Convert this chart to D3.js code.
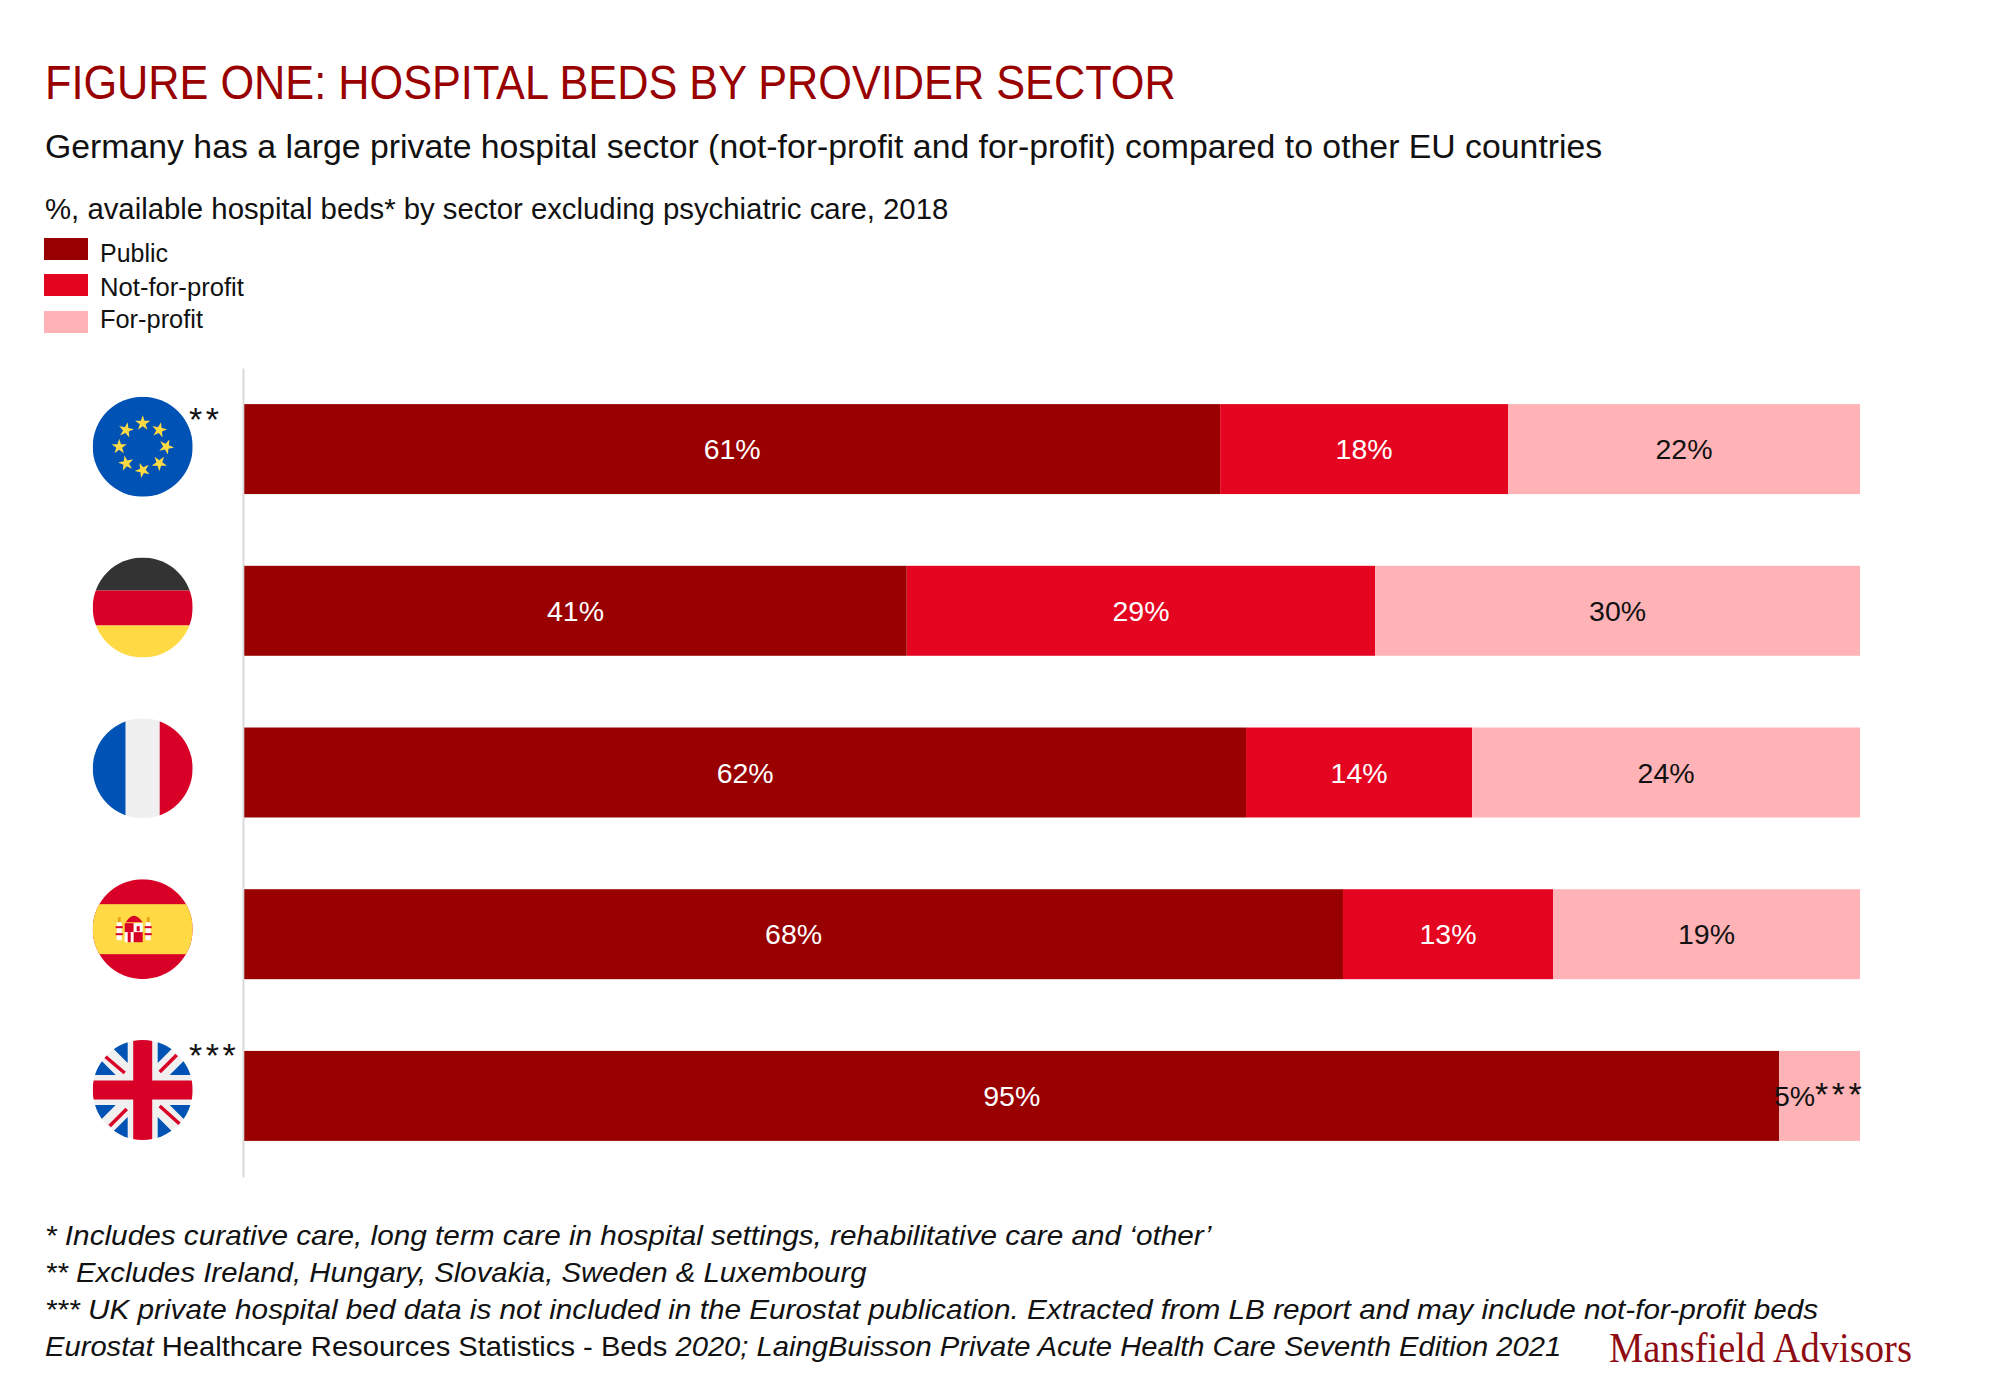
<!DOCTYPE html>
<html>
<head>
<meta charset="utf-8">
<script src="https://cdn.jsdelivr.net/npm/d3@7"></script>
<style>
  body { margin: 0; background: #fff; }
  text { font-family: "Liberation Sans", Arial, sans-serif; fill: #111; }
</style>
</head>
<body>
<script>
// data
var countries = ['EU', 'Germany', 'France', 'Spain', 'UK'];
var sectors = ['Public', 'Not-for-profit', 'For-profit'];
var publicShare = [61, 41, 62, 68, 95];
var notForProfitShare = [18, 29, 14, 13, 0];
var forProfitShare = [22, 30, 24, 19, 5];
var flagMarks = ['**', '', '', '', '***'];
var forProfitMarks = ['', '', '', '', '***'];
var sectorColors = ['#990000', '#e40521', '#ffb3b6'];

var width = 2000;
var height = 1385;

var svg = d3.select('body').append('svg')
    .attr('width', width)
    .attr('height', height)
    .style('display', 'block');

// squeeze a text to the width it has in the reference
function fit(sel, x, y, targetWidth) {
    var k = targetWidth / sel.node().getComputedTextLength();
    sel.attr('transform', 'translate(' + x + ',' + y + ') scale(' + k + ',1)');
    return sel;
}

function addLine(x, y, w, size, parts, color, family) {
    var t = svg.append('text').attr('font-size', size);
    if (color) t.style('fill', color);
    if (family) t.style('font-family', family);
    parts.forEach(function (p) {
        t.append('tspan').attr('font-style', p[1] ? 'italic' : 'normal').text(p[0]);
    });
    return fit(t, x, y, w);
}

//headers
addLine(45, 99, 1131, 48, [['FIGURE ONE: HOSPITAL BEDS BY PROVIDER SECTOR']], '#990000');
addLine(45, 158, 1558, 34, [['Germany has a large private hospital sector (not-for-profit and for-profit) compared to other EU countries']]);
addLine(45, 219, 904, 30, [['%, available hospital beds* by sector excluding psychiatric care, 2018']]);

//legend
var legendTop = [238, 274, 311];
var legendBase = [262, 296, 328];
var legendWidth = [68, 144, 103];
sectors.forEach(function (s, i) {
    svg.append('rect')
        .attr('x', 44).attr('y', legendTop[i])
        .attr('width', 44).attr('height', 22)
        .attr('fill', sectorColors[i]);
    addLine(100, legendBase[i], legendWidth[i], 26, [[s]]);
});

//scales
var yScale = d3.scaleBand()
    .domain(countries)
    .range([368, 1177])
    .paddingInner(0.4437)
    .paddingOuter(0.2233);
var xScale = d3.scaleLinear().domain([0, 1]).range([244.3, 1860]);

var rows = countries.map(function (c, i) {
    return {
        country: c,
        'Public': publicShare[i],
        'Not-for-profit': notForProfitShare[i],
        'For-profit': forProfitShare[i],
        mark: forProfitMarks[i]
    };
});

// rows don't all add up to 100 (EU is 101), the bars fill the width anyway
var stacked = d3.stack().keys(sectors).offset(d3.stackOffsetExpand)(rows);

//y axis line only
svg.append('g')
    .attr('transform', 'translate(243,0)')
    .call(d3.axisLeft(yScale).tickSize(0).tickFormat(''))
    .call(function (g) {
        g.select('.domain').attr('stroke', '#d9d9d9').attr('stroke-width', 2);
    });

//bars
var layers = svg.selectAll('g.layer')
    .data(stacked)
    .enter().append('g')
    .attr('class', 'layer')
    .attr('fill', function (d, i) { return sectorColors[i]; });

layers.selectAll('rect')
    .data(function (d) { return d; })
    .enter().append('rect')
    .filter(function (d) { return d[1] > d[0]; })
    .attr('x', function (d) { return xScale(d[0]); })
    .attr('y', function (d) { return yScale(d.data.country); })
    .attr('width', function (d) { return xScale(d[1]) - xScale(d[0]); })
    .attr('height', yScale.bandwidth());

//value labels
stacked.forEach(function (layer, s) {
    layer.forEach(function (d) {
        var value = d.data[layer.key];
        if (!value) return;
        var label = svg.append('text')
            .attr('x', xScale((d[0] + d[1]) / 2))
            .attr('y', yScale(d.data.country) + yScale.bandwidth() / 2 + 10)
            .attr('text-anchor', 'middle')
            .attr('font-size', 28.5)
            .style('fill', s < 2 ? '#fff' : '#111')
            .text(value + '%');
        if (s === 2 && d.data.mark) {
            label.append('tspan')
                .attr('font-size', 34)
                .attr('letter-spacing', 3.5)
                .text(d.data.mark);
        }
    });
});

//flags
var flagY = d3.scalePoint().domain(countries).range([446.7, 1090]);
var flagX = 142.7;
var flagR = 50;
var markOffset = {EU: -15.7, UK: -23};
var blue = '#0052b4', red = '#d80027', yellow = '#ffda44', dark = '#333', pale = '#f0f0f0';

function band(g, x, y, w, h, fill) {
    g.append('rect').attr('x', x).attr('y', y).attr('width', w).attr('height', h).attr('fill', fill);
}

var flagDrawers = {
    EU: function (g) {
        band(g, -50, -50, 100, 100, blue);
        d3.range(8).forEach(function (i) {
            var a = i * Math.PI / 4;
            g.append('path')
                .attr('d', d3.symbol().type(d3.symbolStar).size(72)())
                .attr('transform', 'translate(' + (23.5 * Math.sin(a)) + ',' + (-23.5 * Math.cos(a)) + ') rotate(' + (i * 12) + ')')
                .attr('fill', yellow);
        });
    },
    Germany: function (g) {
        band(g, -50, -50, 100, 33, dark);
        band(g, -50, -17, 100, 35, red);
        band(g, -50, 18, 100, 32, yellow);
    },
    France: function (g) {
        band(g, -50, -50, 33, 100, blue);
        band(g, -17, -50, 34, 100, pale);
        band(g, 17, -50, 33, 100, red);
    },
    Spain: function (g) {
        band(g, -50, -50, 100, 100, red);
        band(g, -50, -25, 100, 50, yellow);
        // little coat of arms
        band(g, -26, -7, 5, 18, '#fff');
        band(g, 3, -7, 5, 18, '#fff');
        band(g, -27, -3, 7, 2, red);
        band(g, 2, -3, 7, 2, red);
        band(g, -27, 4, 7, 2, red);
        band(g, 2, 4, 7, 2, red);
        band(g, -25, -12, 3, 5, '#e8a317');
        band(g, 4, -12, 3, 5, '#e8a317');
        g.append('path').attr('d', 'M-17,-7 Q-9,-20 0,-7 Z').attr('fill', red);
        band(g, -18, -6, 9, 9, red);
        band(g, -9, -6, 9, 9, '#fff');
        band(g, -18, 3, 9, 10, '#fff');
        band(g, -9, 3, 9, 10, red);
        band(g, -15, 3, 3, 10, red);
        band(g, -6, -3, 3, 5, red);
    },
    UK: function (g) {
        band(g, -50, -50, 100, 100, pale);
        // corner triangles of blue, keep the white diagonals between them
        var corners = [[1, 1], [1, -1], [-1, 1], [-1, -1]];
        corners.forEach(function (c) {
            g.append('path').attr('fill', blue)
                .attr('d', 'M' + (c[0] * 15) + ',' + (c[1] * 50) + 'L' + (c[0] * 15) + ',' + (c[1] * 27)
                    + 'L' + (c[0] * 38) + ',' + (c[1] * 50) + 'Z');
            g.append('path').attr('fill', blue)
                .attr('d', 'M' + (c[0] * 50) + ',' + (c[1] * 15) + 'L' + (c[0] * 27) + ',' + (c[1] * 15)
                    + 'L' + (c[0] * 50) + ',' + (c[1] * 38) + 'Z');
        });
        var diagonals = [[-38, -34, -18, -17], [34, -35, 17, -18], [-33, 36, -16, 19], [37, 34, 17, 16]];
        diagonals.forEach(function (l) {
            g.append('line')
                .attr('x1', l[0]).attr('y1', l[1]).attr('x2', l[2]).attr('y2', l[3])
                .attr('stroke', red).attr('stroke-width', 3.5);
        });
        band(g, -9.5, -50, 19, 100, red);
        band(g, -50, -9.5, 100, 19, red);
    }
};

countries.forEach(function (c, i) {
    var clipId = 'flag-clip-' + i;
    svg.append('clipPath').attr('id', clipId)
        .append('circle').attr('r', flagR);
    var g = svg.append('g')
        .attr('transform', 'translate(' + flagX + ',' + flagY(c) + ')')
        .attr('clip-path', 'url(#' + clipId + ')');
    flagDrawers[c](g);
    if (flagMarks[i]) {
        svg.append('text')
            .attr('x', 189)
            .attr('y', flagY(c) + markOffset[c])
            .attr('font-size', 34)
            .attr('letter-spacing', 3.5)
            .text(flagMarks[i]);
    }
});

//footnotes
addLine(45, 1245, 1167, 28, [['* Includes curative care, long term care in hospital settings, rehabilitative care and \u2018other\u2019', true]]);
addLine(45, 1282, 822, 28, [['** Excludes Ireland, Hungary, Slovakia, Sweden & Luxembourg', true]]);
addLine(45, 1319, 1774, 28, [['*** UK private hospital bed data is not included in the Eurostat publication. Extracted from LB report and may include not-for-profit beds', true]]);
addLine(45, 1356, 1517, 28, [
    ['Eurostat', true],
    [' Healthcare Resources Statistics - Beds ', false],
    ['2020; LaingBuisson Private Acute Health Care Seventh Edition 2021', true]
]);

//logo
addLine(1609, 1362, 303, 42, [['Mansfield Advisors']], '#8f0d12', '"Liberation Serif", serif');
</script>
</body>
</html>
